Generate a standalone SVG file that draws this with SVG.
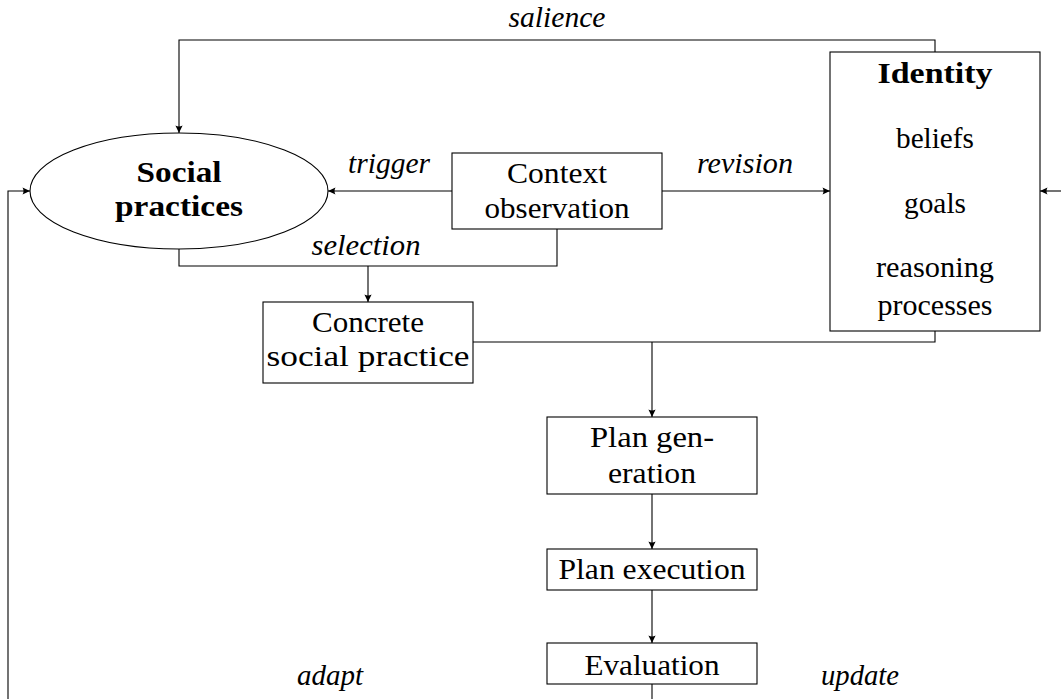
<svg xmlns="http://www.w3.org/2000/svg" width="1061" height="699" viewBox="0 0 1061 699">
<style>
.box{fill:#fff;stroke:#000;stroke-width:1.1}
.c{fill:none;stroke:#000;stroke-width:1.1}
text{font-family:"Liberation Serif","Times New Roman",serif;font-size:29px;fill:#000;text-anchor:middle}
.b{font-weight:bold;font-size:30px}
.i{font-style:italic}
</style>
<defs>
<marker id="ah" markerUnits="userSpaceOnUse" markerWidth="10" markerHeight="10" viewBox="-8 -5 10 10" refX="0" refY="0" orient="auto">
<path d="M0,0 L-7.5,-3.6 Q-5.5,0 -7.5,3.6 Z" fill="#000"/>
</marker>
</defs>
<rect width="1061" height="699" fill="#fff"/>
<g id="connectors">
<path class="c" d="M935,52 V40 H179 V133" marker-end="url(#ah)"/>
<path class="c" d="M452,191 H328" marker-end="url(#ah)"/>
<path class="c" d="M662,191 H830" marker-end="url(#ah)"/>
<path class="c" d="M179,249 V266 H557 V229"/>
<path class="c" d="M368,266 V302" marker-end="url(#ah)"/>
<path class="c" d="M935,331 V342 H473"/>
<path class="c" d="M652,342 V417" marker-end="url(#ah)"/>
<path class="c" d="M652,494 V549" marker-end="url(#ah)"/>
<path class="c" d="M652,590 V643" marker-end="url(#ah)"/>
<path class="c" d="M652,684 V700"/>
<path class="c" d="M8,700 V191 H30" marker-end="url(#ah)"/>
<path class="c" d="M1062,191 H1040" marker-end="url(#ah)"/>
<text class="i" x="557" y="27" textLength="97" lengthAdjust="spacingAndGlyphs">salience</text>
<text class="i" x="389" y="173" textLength="82" lengthAdjust="spacingAndGlyphs">trigger</text>
<text class="i" x="745" y="173" textLength="96" lengthAdjust="spacingAndGlyphs">revision</text>
<text class="i" x="366" y="255" textLength="109" lengthAdjust="spacingAndGlyphs">selection</text>
<text class="i" x="330" y="685" textLength="66" lengthAdjust="spacingAndGlyphs">adapt</text>
<text class="i" x="860" y="685" textLength="78" lengthAdjust="spacingAndGlyphs">update</text>
</g>
<g id="social-practices">
<ellipse class="box" cx="179" cy="191" rx="149" ry="58"/>
<text class="b" x="179" y="182" textLength="85" lengthAdjust="spacingAndGlyphs">Social</text>
<text class="b" x="179" y="216" textLength="128" lengthAdjust="spacingAndGlyphs">practices</text>
</g>
<g id="context-observation">
<rect class="box" x="452" y="153" width="210" height="76"/>
<text x="557" y="183" textLength="100" lengthAdjust="spacingAndGlyphs">Context</text>
<text x="557" y="218" textLength="145" lengthAdjust="spacingAndGlyphs">observation</text>
</g>
<g id="identity">
<rect class="box" x="830" y="52" width="210" height="279"/>
<text class="b" x="935" y="83" textLength="115" lengthAdjust="spacingAndGlyphs">Identity</text>
<text x="935" y="148" textLength="78" lengthAdjust="spacingAndGlyphs">beliefs</text>
<text x="935" y="213" textLength="62" lengthAdjust="spacingAndGlyphs">goals</text>
<text x="935" y="277" textLength="118" lengthAdjust="spacingAndGlyphs">reasoning</text>
<text x="935" y="315" textLength="115" lengthAdjust="spacingAndGlyphs">processes</text>
</g>
<g id="concrete-social-practice">
<rect class="box" x="263" y="302" width="210" height="81"/>
<text x="368" y="332" textLength="112" lengthAdjust="spacingAndGlyphs">Concrete</text>
<text x="368" y="366" textLength="203" lengthAdjust="spacingAndGlyphs">social practice</text>
</g>
<g id="plan-generation">
<rect class="box" x="547" y="417" width="210" height="77"/>
<text x="652" y="447" textLength="124" lengthAdjust="spacingAndGlyphs">Plan gen-</text>
<text x="652" y="483" textLength="88" lengthAdjust="spacingAndGlyphs">eration</text>
</g>
<g id="plan-execution">
<rect class="box" x="547" y="549" width="210" height="41"/>
<text x="652" y="579" textLength="187" lengthAdjust="spacingAndGlyphs">Plan execution</text>
</g>
<g id="evaluation">
<rect class="box" x="547" y="643" width="210" height="41"/>
<text x="652" y="675" textLength="135" lengthAdjust="spacingAndGlyphs">Evaluation</text>
</g>
</svg>
